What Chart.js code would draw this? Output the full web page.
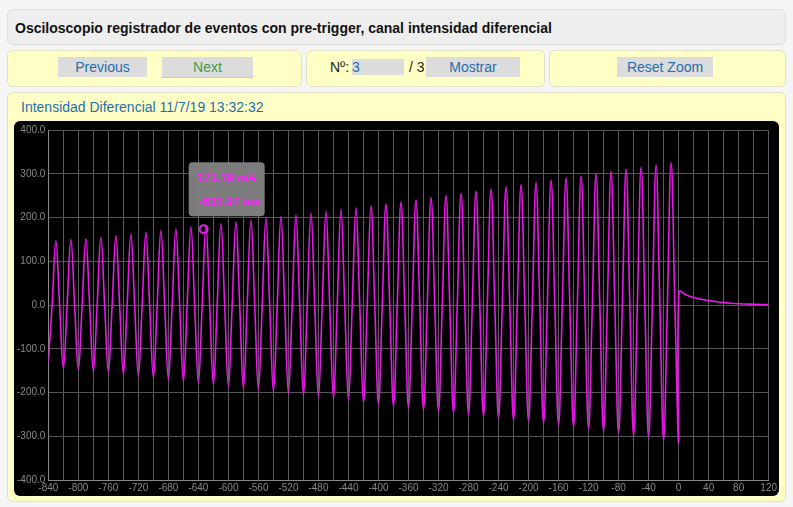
<!DOCTYPE html>
<html><head><meta charset="utf-8">
<script src="https://cdn.jsdelivr.net/npm/chart.js@4"></script>
<style>
body{margin:0;background:#f5f5f5;font-family:"Liberation Sans Narrow","Liberation Sans",Arial,sans-serif;width:793px;height:507px;overflow:hidden;position:relative}
.p{position:absolute;border:1px solid #e2e2c8;border-radius:6px;box-sizing:border-box}
.t{left:7px;top:9px;width:779px;height:36px;background:#eeeeee;border-color:#dedede;font:bold 14px "Liberation Sans",Arial,sans-serif;padding:10px 7px;color:#111}
.y{background:#ffffc6}
.b{position:absolute;background:#dcdcdc;color:#1e6fb0;font-size:14px;text-align:center;line-height:20px;height:20px}
#wrap{position:absolute;left:14px;top:121px;width:765px;height:375px;background:#000;border-radius:6px}
</style></head><body>
<div class="p t">Osciloscopio registrador de eventos con pre-trigger, canal intensidad diferencial</div>
<div class="p y" style="left:7px;top:50px;width:295px;height:37px"></div>
<div class="p y" style="left:306px;top:50px;width:239px;height:37px"></div>
<div class="p y" style="left:549px;top:50px;width:237px;height:37px"></div>
<div class="b" style="left:58px;top:57px;width:89px">Previous</div>
<div class="b" style="left:162px;top:57px;width:91px;color:#3aa040;box-shadow:0 1px 0 #bcd">Next</div>
<div style="position:absolute;left:330px;top:59px;font-size:14px;color:#222">Nº:</div>
<div style="position:absolute;left:352px;top:59px;width:52px;height:16px;background:#dcdcdc;font-size:14px;color:#1e6fb0;line-height:16px">3</div>
<div style="position:absolute;left:409px;top:59px;font-size:14px;color:#222">/ 3</div>
<div class="b" style="left:426px;top:57px;width:94px">Mostrar</div>
<div class="b" style="left:617px;top:57px;width:96px">Reset Zoom</div>
<div class="p y" style="left:7px;top:92px;width:779px;height:410px"></div>
<div style="position:absolute;left:21px;top:99px;font-size:14px;color:#1e6fb0">Intensidad Diferencial 11/7/19 13:32:32</div>
<div id="wrap"><canvas id="c"></canvas></div>
<script>
// peak (positive) values per cycle, at t = -830, -810, ..., -10
const peaks=[147,150,152,155,158,162,166,170,174,178,182,186,190,194,198,202,206,210,214,218,222,226,230,235,240,245,250,255,260,265,270,275,280,285,290,295,300,305,310,315,320,325];
// trough values at t = -840, -820, ..., 0
const troughs=[-130,-145,-148,-151,-154,-158,-162,-166,-170,-174,-178,-182,-186,-190,-194,-198,-202,-206,-210,-214,-218,-222,-226,-230,-234,-238,-242,-246,-250,-254,-258,-262,-266,-270,-274,-278,-283,-288,-293,-298,-303,-309,-316];
// post-trigger decay
const decayT=[0.5,10,20,30,40,50,60,70,80,90,100,110,120];
const decayV=[30,23,17,13,10,7.5,5.5,4,3,2.3,1.7,1.3,1];
const xTicks=[-840,-800,-760,-720,-680,-640,-600,-560,-520,-480,-440,-400,-360,-320,-280,-240,-200,-160,-120,-80,-40,0,40,80,120];
const marker={t:-632.97,v:173.19,label:["173.19 mA","-632.97 ms"]};

const pts=[];
for(let k=0;k<troughs.length;k++){
  const t=-840+20*k;
  pts.push({x:t,y:troughs[k]});
  if(k<peaks.length){
    pts.push({x:t+5,y:0});
    pts.push({x:t+10,y:peaks[k]});
    pts.push({x:t+15,y:0});
  }
}
decayT.forEach((t,i)=>pts.push({x:t,y:decayV[i]}));

const tipPlugin={id:'tip',afterDatasetsDraw(ch){
  const c=ch.ctx,x=ch.scales.x.getPixelForValue(marker.t),y=ch.scales.y.getPixelForValue(marker.v);
  c.save();
  c.strokeStyle='#e020e0';c.lineWidth=2;c.beginPath();c.arc(x,y,4,0,Math.PI*2);c.stroke();
  const bx=x-15,by=y-67,w=76,h=54;
  c.fillStyle='rgba(128,128,128,0.97)';
  c.beginPath();c.roundRect(bx,by,w,h,4);c.fill();
  c.fillStyle='#ff20ff';c.font='bold 12px "Liberation Sans",Arial';c.textAlign='center';
  c.fillText(marker.label[0],bx+w/2,by+20);
  c.fillText(marker.label[1],bx+w/2+3,by+44);
  c.restore();
}};

new Chart(document.getElementById('c'),{
  type:'line',
  data:{datasets:[{data:pts,borderColor:'#e619e6',borderWidth:1.6,pointRadius:0,tension:0.4,fill:false}]},
  options:{responsive:true,maintainAspectRatio:false,animation:false,
    layout:{padding:{top:6,right:6,left:0,bottom:0}},
    plugins:{legend:{display:false},tooltip:{enabled:false}},
    scales:{
      x:{type:'linear',min:-840,max:120,
        afterBuildTicks(s){s.ticks=[];for(let v=-840;v<=120;v+=20)s.ticks.push({value:v});},
        ticks:{color:'#888',font:{size:10,family:'"Liberation Sans Narrow",Arial'},maxRotation:0,autoSkip:false,padding:2,
          callback:v=>xTicks.includes(v)?String(v):''},
        grid:{color:'#5a5a5a',tickLength:0},border:{color:'#888'}},
      y:{min:-400,max:400,
        ticks:{stepSize:100,color:'#888',font:{size:10,family:'"Liberation Sans Narrow",Arial'},callback:v=>v.toFixed(1),padding:3},
        grid:{color:'#555',tickLength:0},border:{color:'#888'}}
    }},
  plugins:[tipPlugin]
});
</script></body></html>
